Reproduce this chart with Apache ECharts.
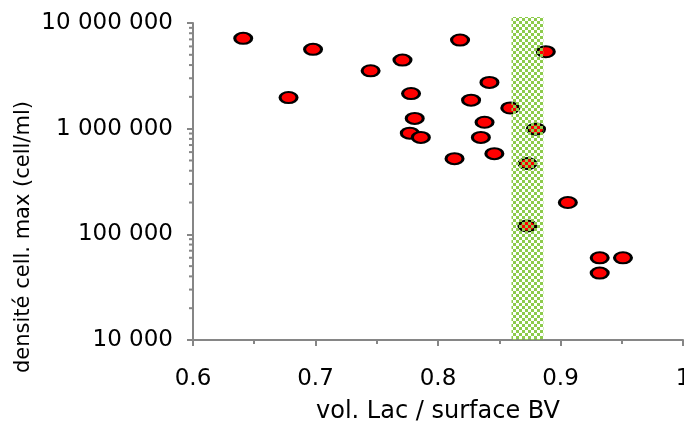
<!DOCTYPE html>
<html>
<head>
<meta charset="utf-8">
<script src="https://cdn.jsdelivr.net/npm/echarts@6/dist/echarts.min.js"></script>
<style>html,body{margin:0;padding:0;background:#fff}#c{width:684px;height:425px}</style>
</head>
<body>
<div id="c"></div>
<script>
// x: vol. Lac / surface BV ; y: densité cell. max (cell/ml)
const volRatio = [0.641, 0.698, 0.678, 0.745, 0.771, 0.778, 0.781, 0.777, 0.786, 0.818, 0.888, 0.842, 0.827, 0.859, 0.838, 0.880, 0.835, 0.8135, 0.846, 0.873, 0.906, 0.873, 0.932, 0.951, 0.932];
const cellDensity = [7.16e6, 5.63e6, 1.97e6, 3.53e6, 4.46e6, 2.15e6, 1.25e6, 9.06e5, 8.26e5, 6.9e6, 5.35e6, 2.74e6, 1.86e6, 1.57e6, 1.15e6, 9.9e5, 8.26e5, 5.2e5, 5.8e5, 4.67e5, 2.0e5, 1.2e5, 6.0e4, 6.0e4, 4.3e4];
const bandRange = [0.86, 0.886];
const bandY = [1e4, 1.14e7];
const xTicks = [0.6, 0.7, 0.8, 0.9, 1];
const xTickLabels = ['0.6', '0.7', '0.8', '0.9', '1'];
const yTicks = [1e4, 1e5, 1e6, 1e7];
const yTickLabels = ['10 000', '100 000', '1 000 000', '10 000 000'];
const yMinorTicks = [];
[1e4, 1e5, 1e6].forEach(d => { for (let k = 2; k <= 9; k++) yMinorTicks.push(d * k); });

const FONT = 'DejaVu Sans';
const AXIS = '#868686';

// checker pattern
const pc = document.createElement('canvas');
pc.width = 6; pc.height = 6;
const g = pc.getContext('2d');
g.fillStyle = '#8DCB4C';
g.fillRect(0, 0, 3, 3);
g.fillRect(3, 3, 3, 3);

const chart = echarts.init(document.getElementById('c'), null, {renderer: 'canvas'});
chart.setOption({
  animation: false,
  grid: {left: 193, right: 1, top: 23, bottom: 85, containLabel: false, outerBoundsMode: 'none'},
  xAxis: {
    type: 'value', min: 0.6, max: 1, interval: 0.1,
    splitLine: {show: false},
    axisLine: {lineStyle: {color: AXIS, width: 2}},
    axisTick: {length: 6, lineStyle: {color: AXIS, width: 2}},
    minorTick: {show: true, splitNumber: 2, length: 4, lineStyle: {color: AXIS, width: 2}},
    axisLabel: {margin: 28, color: '#000', fontFamily: FONT, fontSize: 23, hideOverlap: false,
      formatter: v => { const i = xTicks.findIndex(t => Math.abs(t - v) < 1e-9); return i >= 0 ? xTickLabels[i] : ''; }},
    name: 'vol. Lac / surface BV', nameLocation: 'middle', nameGap: 60,
    nameTextStyle: {color: '#000', fontFamily: FONT, fontSize: 24}
  },
  yAxis: {
    type: 'log', logBase: 10, min: 1e4, max: 1e7,
    splitLine: {show: false},
    axisLine: {lineStyle: {color: AXIS, width: 2}},
    axisTick: {length: 6, lineStyle: {color: AXIS, width: 2}},
    axisLabel: {margin: 20, color: '#000', fontFamily: FONT, fontSize: 23,
      formatter: v => { const i = yTicks.findIndex(t => Math.abs(Math.log10(t) - Math.log10(v)) < 1e-6); return i >= 0 ? yTickLabels[i] : ''; }}
  },
  graphic: [{
    type: 'text', x: 24, y: 237, rotation: Math.PI / 2,
    style: {text: 'densité cell. max (cell/ml)', fill: '#000', font: '21px "DejaVu Sans"', align: 'center', verticalAlign: 'middle'}
  }],
  series: [
    {
      type: 'scatter', z: 2,
      data: volRatio.map((x, i) => [x, cellDensity[i]]),
      symbol: 'circle', symbolSize: [17, 11],
      itemStyle: {color: '#FF0000', borderColor: '#000', borderWidth: 2.5, opacity: 1}
    },
    {
      type: 'custom', z: 3, clip: false, silent: true,
      data: [[bandRange[0], bandRange[1], bandY[0], bandY[1]]],
      renderItem: (params, api) => {
        const p0 = api.coord([api.value(0), api.value(3)]);
        const p1 = api.coord([api.value(1), api.value(2)]);
        return {type: 'rect', shape: {x: p0[0], y: p0[1], width: p1[0] - p0[0], height: p1[1] - p0[1]},
          style: {fill: {image: pc, repeat: 'repeat'}}};
      }
    },
    {
      type: 'custom', z: 4, clip: false, silent: true,
      data: yMinorTicks.map(v => [0.6, v]),
      renderItem: (params, api) => {
        const p = api.coord([api.value(0), api.value(1)]);
        return {type: 'line', shape: {x1: p[0] - 4, y1: p[1], x2: p[0], y2: p[1]},
          style: {stroke: AXIS, lineWidth: 2}};
      }
    }
  ]
});
</script>
</body>
</html>
